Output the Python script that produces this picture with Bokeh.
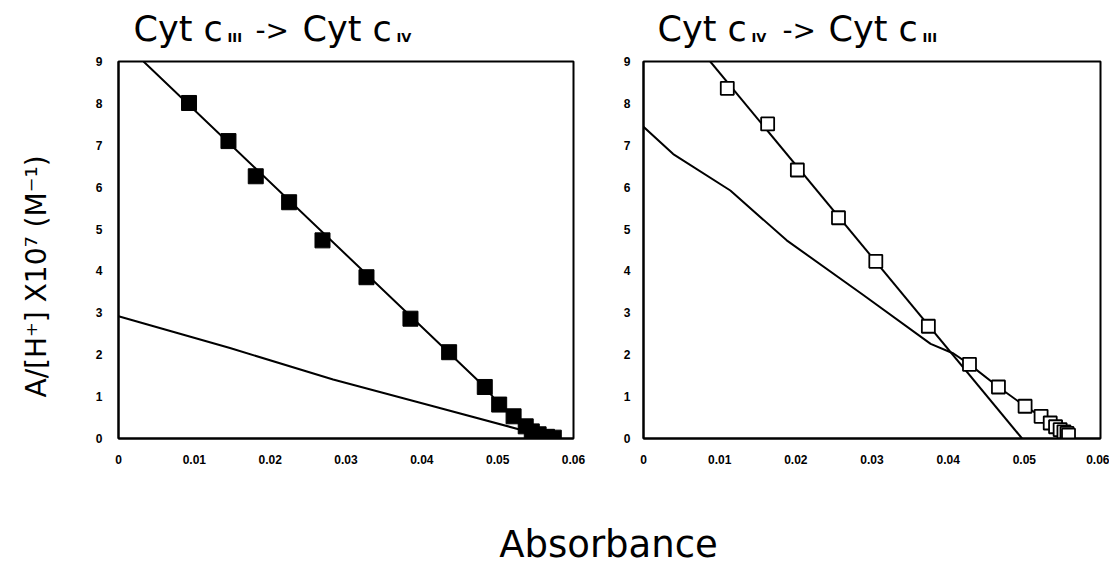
import math
from bokeh.plotting import figure
from bokeh.layouts import row, column
from bokeh.models import Range1d, FixedTicker, NumeralTickFormatter, BasicTickFormatter
from bokeh.core.properties import value
from bokeh.embed import file_html
from bokeh.resources import INLINE

# ---------------- data ----------------
# left panel: Cyt c III -> Cyt c IV (filled squares)
left_abs = [0.0093, 0.0145, 0.0181, 0.0225, 0.0269, 0.0327, 0.0385, 0.0436,
            0.0483, 0.0502, 0.0521, 0.0537, 0.0545, 0.0554, 0.0565, 0.0574]
left_ratio = [8.01, 7.10, 6.26, 5.64, 4.73, 3.85, 2.86, 2.06,
              1.23, 0.81, 0.53, 0.29, 0.17, 0.10, 0.04, 0.02]
# steep fitted curve (left)
left_fit_abs = [0.0033, 0.0483, 0.0502, 0.0521, 0.0537, 0.0550, 0.0565, 0.0574]
left_fit_ratio = [9.00, 1.23, 0.81, 0.53, 0.29, 0.15, 0.05, 0.02]
# shallow component line (left)
left_comp_abs = [0.0, 0.0147, 0.0283, 0.0415, 0.0530, 0.0545]
left_comp_ratio = [2.92, 2.16, 1.41, 0.77, 0.21, 0.12]

# right panel: Cyt c IV -> Cyt c III (open squares)
right_abs = [0.0110, 0.0163, 0.0202, 0.0256, 0.0305, 0.0374, 0.0428, 0.0466,
             0.0501, 0.0522, 0.0534, 0.0541, 0.0547, 0.0552, 0.0556, 0.0558]
right_ratio = [8.36, 7.51, 6.41, 5.27, 4.23, 2.68, 1.77, 1.23,
               0.77, 0.53, 0.37, 0.28, 0.21, 0.16, 0.12, 0.08]
# steep straight line (right)
right_fit_abs = [0.00876, 0.0497]
right_fit_ratio = [9.0, 0.0]
# curved line (right)
right_comp_abs = [0.0, 0.0039, 0.0114, 0.0188, 0.0289, 0.0377, 0.0407, 0.0428,
                  0.0466, 0.0501, 0.0522, 0.0541, 0.0556]
right_comp_ratio = [7.44, 6.79, 5.92, 4.73, 3.42, 2.26, 2.03, 1.77,
                    1.23, 0.77, 0.53, 0.28, 0.12]

x_ticks = [0, 0.01, 0.02, 0.03, 0.04, 0.05, 0.06]
y_ticks = [0, 1, 2, 3, 4, 5, 6, 7, 8, 9]

left_title = ["Cyt c", "III", "->", "Cyt c", "IV"]
right_title = ["Cyt c", "IV", "->", "Cyt c", "III"]
y_label = "A/[H\u207a] X10\u2077 (M\u207b\u00b9)"
x_label = "Absorbance"

BIG_FONT = "DejaVu Sans"
TICK_FONT = "Liberation Sans"


def helper(width, height):
    f = figure(width=width, height=height, x_range=Range1d(0, width),
               y_range=Range1d(0, height), output_backend="svg",
               toolbar_location=None, x_axis_location=None, y_axis_location=None,
               title=None, min_border=0)
    f.outline_line_color = None
    f.grid.visible = False
    f.background_fill_color = "white"
    f.border_fill_color = "white"
    return f


def panel(width, border_left, border_right):
    p = figure(width=width, height=428, x_range=Range1d(0, 0.06),
               y_range=Range1d(0, 9), output_backend="svg",
               toolbar_location=None, title=None, min_border=0)
    p.min_border_left = border_left
    p.min_border_right = border_right
    p.min_border_top = 8
    p.min_border_bottom = 43
    p.grid.visible = False
    p.outline_line_color = "black"
    p.outline_line_width = 2
    for ax in (p.xaxis[0], p.yaxis[0]):
        ax.axis_line_color = "black"
        ax.axis_line_width = 2
        ax.major_tick_in = 0
        ax.major_tick_out = 0
        ax.minor_tick_in = 0
        ax.minor_tick_out = 0
        ax.major_label_text_font = TICK_FONT
        ax.major_label_text_font_style = "bold"
        ax.major_label_text_font_size = "12px"
        ax.major_label_text_color = "black"
    p.xaxis[0].ticker = FixedTicker(ticks=x_ticks)
    p.xaxis[0].formatter = NumeralTickFormatter(format="0.[00]")
    p.xaxis[0].major_label_standoff = 16
    p.yaxis[0].ticker = FixedTicker(ticks=y_ticks)
    p.yaxis[0].formatter = BasicTickFormatter()
    return p


# ---------------- left panel ----------------
p1 = panel(530, 48, 27)
p1.yaxis[0].major_label_standoff = 16
p1.line(left_comp_abs, left_comp_ratio, line_color="black", line_width=2)
p1.line(left_fit_abs, left_fit_ratio, line_color="black", line_width=2)
p1.scatter(left_abs, left_ratio, marker="square", size=15,
           fill_color="black", line_color="black")

# ---------------- right panel ----------------
p2 = panel(509, 43, 9)
p2.yaxis[0].major_label_standoff = 13
p2.line(right_comp_abs, right_comp_ratio, line_color="black", line_width=2)
p2.line(right_fit_abs, right_fit_ratio, line_color="black", line_width=2)
p2.scatter(right_abs, right_ratio, marker="square", size=13,
           fill_color="white", line_color="black", line_width=1.8)

# ---------------- titles (top strip, page y 0..53) ----------------
top = helper(1109, 53)
title_x_left = [133, 227, 255, 302, 396]
title_x_right = [657, 751, 782, 828, 922]
seg_kind = ["main", "sub", "arrow", "main", "sub"]
for texts, xs in ((left_title, title_x_left), (right_title, title_x_right)):
    for t, x, kind in zip(texts, xs, seg_kind):
        if kind == "sub":
            top.text(x=[x], y=[16.5], text=[t], text_font=value(BIG_FONT),
                     text_font_size="13px", text_font_style="bold",
                     text_align="left", text_baseline="alphabetic",
                     text_color="black")
        elif kind == "arrow":
            top.text(x=[x], y=[23], text=[t], text_font=value(BIG_FONT),
                     text_font_size="28px", text_align="left",
                     text_baseline="alphabetic", text_color="black")
        else:
            top.text(x=[x], y=[24.5], text=[t], text_font=value(BIG_FONT),
                     text_font_size="35px", text_align="left",
                     text_baseline="alphabetic", text_color="black")

# ---------------- y label (left strip, page x 0..70) ----------------
ylab = helper(70, 428)
ylab.text(x=[36], y=[184], text=[y_label], angle=math.pi / 2,
          text_font=value(BIG_FONT), text_font_size="28px",
          text_align="center", text_baseline="middle", text_color="black")

# ---------------- x label (bottom strip) ----------------
xlab = helper(1109, 89)
xlab.text(x=[608], y=[26], text=[x_label], text_font=value(BIG_FONT),
          text_font_size="37px", text_align="center",
          text_baseline="alphabetic", text_color="black")

layout = column(top, row(ylab, p1, p2), xlab)
open("out.html", "w").write(file_html(layout, INLINE))
